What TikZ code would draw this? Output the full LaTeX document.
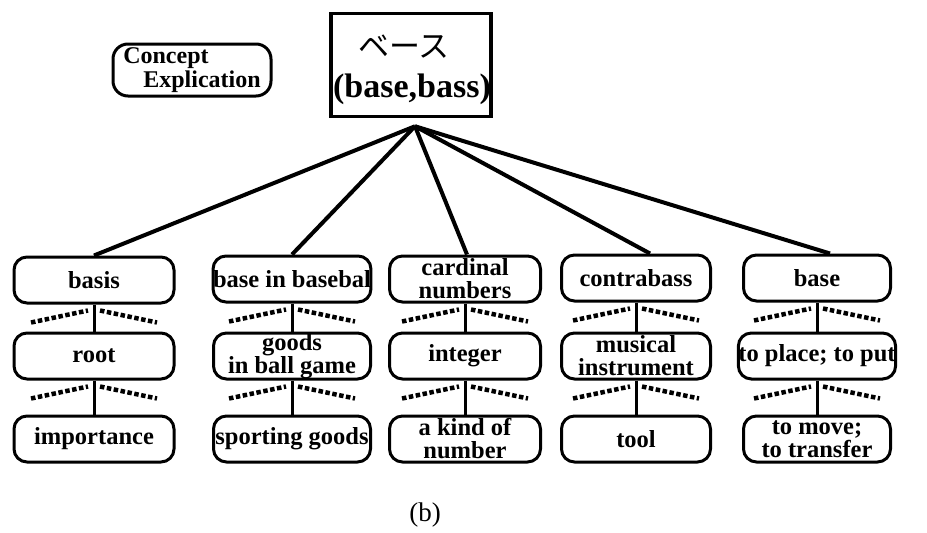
\documentclass[tikz,border=0pt]{standalone}
\usepackage{fontspec}
\setmainfont{Liberation Serif}
\newfontfamily\cjk{Noto Sans CJK JP}
\usetikzlibrary{calc}
\begin{document}
\begin{tikzpicture}[x=1pt,y=-1pt,
  sensebox/.style={draw,line width=3pt,rounded corners=13pt,minimum height=46pt,
    inner sep=0pt,align=center,font=\fontsize{24.5}{23}\selectfont\bfseries},
  headbox/.style={draw,line width=3.5pt,inner sep=0pt,minimum width=160pt,minimum height=103pt},
  tagbox/.style={draw,line width=3pt,rounded corners=15pt,minimum width=158pt,minimum height=52pt,
    inner sep=0pt,align=left,font=\fontsize{24}{24}\selectfont\bfseries},
  branch/.style={line width=4pt},
  link/.style={line width=3pt},
  hint/.style={line width=4.5pt,dash pattern=on 4.5pt off 2.5pt}]
\useasboundingbox (0,0) rectangle (927,533);
\fill[white] (0,0) rectangle (927,533);

% headword and legend
\node[headbox] (head) at (411,65) {};
\node[font=\cjk\fontsize{31}{34}\selectfont] (kana) at (404,47) {ベース};
\node[font=\fontsize{34}{36}\selectfont\bfseries] (romaji) at (412,89) {(base,bass)};
\node[tagbox] (tag) at (192,70) {Concept\\\hspace*{20pt}Explication};

% sense columns: three levels each
\node[sensebox,minimum width=160pt] (a1) at (94,280) {basis};
\node[sensebox,minimum width=160pt] (a2) at (94,356) {root};
\node[sensebox,minimum width=160pt] (a3) at (94,439) {importance};

\node[sensebox,minimum width=157pt] (b1) at (292,279) {base in basebal};
\node[sensebox,minimum width=157pt] (b2) at (292,356) {goods\\in ball game};
\node[sensebox,minimum width=157pt] (b3) at (292,439) {sporting goods};

\node[sensebox,minimum width=151pt] (c1) at (465,279) {cardinal\\numbers};
\node[sensebox,minimum width=151pt] (c2) at (465,356) {integer};
\node[sensebox,minimum width=151pt] (c3) at (465,439) {a kind of\\number};

\node[sensebox,minimum width=149pt] (d1) at (636,278) {contrabass};
\node[sensebox,minimum width=149pt] (d2) at (636,356) {musical\\instrument};
\node[sensebox,minimum width=149pt] (d3) at (636,439) {tool};

\node[sensebox,minimum width=147pt] (e1) at (817,278) {base};
\node[sensebox,minimum width=147pt] (e2) at (817,356) {to place; to put};
\node[sensebox,minimum width=147pt] (e3) at (817,439) {to move;\\to transfer};

% branches from the headword
\draw[branch] (head.south) ++(4,8) coordinate (apex) (apex) -- (a1.north);
\draw[branch] (apex) -- (b1.north);
\draw[branch] (apex) -- ($(c1.north)+(2,0)$);
\draw[branch] (apex) -- ($(d1.north)+(14,0)$);
\draw[branch] (apex) -- ($(e1.north)+(13,0)$);

% vertical links and dotted fans
\foreach \n in {a,b,c,d,e}{
  \draw[link] (\n1.south) -- (\n2.north);
  \draw[link] (\n2.south) -- (\n3.north);
  \foreach \u in {1,2}{
    \draw[hint] ($(\n\u.south)+(-63,18)$) -- ($(\n\u.south)+(-6,6)$);
    \draw[hint] ($(\n\u.south)+(6,6)$) -- ($(\n\u.south)+(63,18)$);
  }
}

% caption
\node[font=\fontsize{27}{30}\selectfont] (cap) at (425,515) {(b)};
\end{tikzpicture}
\end{document}
